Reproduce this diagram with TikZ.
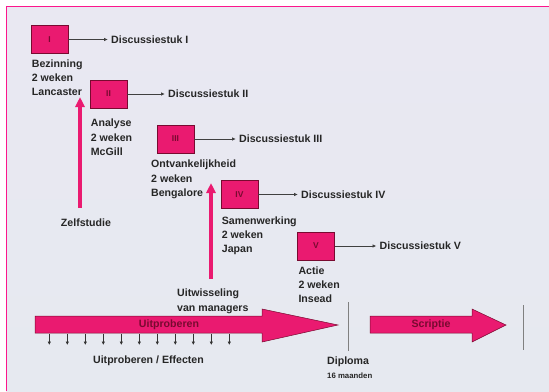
\documentclass[tikz,border=0pt]{standalone}
\usepackage{fontspec}
\setmainfont{Liberation Sans}
\usetikzlibrary{arrows.meta}
\definecolor{roze}{RGB}{234,26,112}
\definecolor{rozerand}{RGB}{252,22,140}
\definecolor{donkerroze}{RGB}{120,10,48}
\definecolor{lucht}{RGB}{233,232,242}
\definecolor{sneeuw}{RGB}{230,233,240}
\newcommand{\tekst}{\fontsize{10.6}{14.3}\selectfont\bfseries}
\newcommand{\klein}{\fontsize{7.8}{9}\selectfont\bfseries}

\begin{document}
\begin{tikzpicture}[x=1pt, y=-1pt,
  fase/.style={rectangle, draw=donkerroze, line width=0.6pt, fill=roze, minimum width=37pt, minimum height=28pt, inner sep=0pt, font=\fontsize{8.5}{10}\selectfont\bfseries, text=donkerroze},
  stuk/.style={anchor=west, inner sep=3pt, font=\tekst, text=black!85},
  info/.style={anchor=north west, align=left, inner sep=0pt, font=\tekst, text=black!85},
  lab/.style={inner sep=0pt, font=\tekst, text=black!85},
  arr/.style={-{Latex[length=4pt,width=3.5pt]}, line width=0.8pt, black!75},
  groei/.style={-{Triangle[length=10pt,width=9pt]}, line width=4pt, roze},
  pijl/.style={fill=roze, draw=donkerroze, line width=0.5pt},
  pijltekst/.style={inner sep=0pt, font=\tekst, text=donkerroze},
  tik/.style={-{Latex[length=3.5pt,width=3.5pt]}, line width=0.8pt, black!80},
  streep/.style={line width=0.8pt, black!50}
]
\useasboundingbox (0,0) rectangle (549,391);
\fill[white] (0,0) rectangle (549,391);
\shade[top color=lucht, bottom color=sneeuw] (6.3,6.3) rectangle (549,391);
\draw[rozerand, line width=1.5pt] (6.3,391) -- (6.3,6.3) -- (549,6.3);

\node[fase] (f1) at (49.5,39.5) {I};
\node[fase] (f2) at (108.5,94) {II};
\node[fase] (f3) at (175.5,139) {III};
\node[fase] (f4) at (239.5,194.5) {IV};
\node[fase] (f5) at (316,246) {V};
\node[stuk] (d1) at (108,39.5) {Discussiestuk I};
\node[stuk] (d2) at (165,94) {Discussiestuk II};
\node[stuk] (d3) at (236,139) {Discussiestuk III};
\node[stuk] (d4) at (298,194.5) {Discussiestuk IV};
\node[stuk] (d5) at (376.5,246) {Discussiestuk V};
\node[info] (c1) at (31.7,59.5) {Bezinning\\2 weken\\Lancaster};
\node[info] (c2) at (90.7,119) {Analyse\\2 weken\\McGill};
\node[info] (c3) at (151,160) {Ontvankelijkheid\\2 weken\\Bengalore};
\node[info] (c4) at (221.7,216.5) {Samenwerking\\2 weken\\Japan};
\node[info] (c5) at (298.3,266.5) {Actie\\2 weken\\Insead};
\foreach \i in {1,...,5}
  \draw[arr] (f\i) -- (d\i);

\node[lab] (zelf) at (86,223) {Zelfstudie};
\coordinate (zelftop) at (80,97);
\draw[groei, shorten <=11pt] (zelf.north -| zelftop) -- (zelftop);
\node[info] (uitw) at (177,289) {Uitwisseling\\van managers};
\coordinate (uitwtop) at (211,183);
\draw[groei, shorten <=10pt] (uitw.north -| uitwtop) -- (uitwtop);

\draw[pijl] (35,316) -- (262,316) -- (262,309) -- (338,325) -- (262,342) -- (262,333) -- (35,333) -- cycle;
\node[pijltekst] (uitp) at (169,325) {Uitproberen};
\foreach \i in {0,...,10}
  \draw[tik] (49.3+18*\i,333.5) -- (49.3+18*\i,345);
\node[lab] (eff) at (148.5,361) {Uitproberen / Effecten};

\draw[streep] (348,302) -- (348,351);
\node[info] (diploma) at (327,357) {Diploma};
\node[anchor=north west, inner sep=0pt, font=\klein, text=black!85] (duur) at (327,373) {16 maanden};

\draw[pijl] (370,316) -- (472,316) -- (472,309) -- (506,325) -- (472,342) -- (472,333) -- (370,333) -- cycle;
\node[pijltekst] (scriptie) at (431,325) {Scriptie};
\draw[streep] (523,305) -- (523,350);
\end{tikzpicture}
\end{document}
